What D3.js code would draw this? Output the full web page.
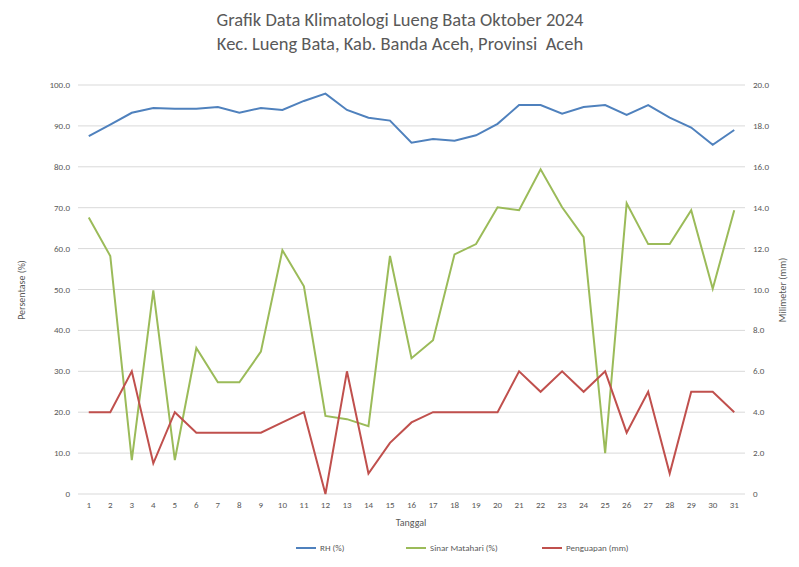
<!DOCTYPE html>
<html><head><meta charset="utf-8">
<script src="https://cdn.jsdelivr.net/npm/d3@7"></script>
<style>body{margin:0;background:#fff;font-family:Calibri,"Liberation Sans",Arial,sans-serif}</style>
</head><body>
<svg id="chart" width="799" height="567"></svg>
<script>
var days = d3.range(1, 32);
var rh = [87.5,90.3,93.2,94.4,94.2,94.2,94.6,93.2,94.4,93.9,96.1,97.9,93.9,92,91.3,85.9,86.8,86.4,87.7,90.5,95.1,95.1,93,94.6,95.1,92.7,95.1,92,89.6,85.4,89];
var sinar = [67.6,58.2,8.3,49.8,8.3,35.7,27.3,27.3,34.8,59.6,50.8,19.1,18.3,16.6,58.2,33.2,37.6,58.6,61.1,70.1,69.4,79.4,70.1,62.8,10,71.1,61.1,61.1,69.4,50.2,69.4];
var penguapan = [4,4,6,1.5,4,3,3,3,3,3.5,4,0,6,1,2.5,3.5,4,4,4,4,6,5,6,5,6,3,5,1,5,5,4];
var leftTicks = d3.range(0, 101, 10);
var rightTicks = d3.range(0, 21, 2);

var svg = d3.select("#chart");
var x = d3.scaleBand().domain(days).range([78, 745]);
var yL = d3.scaleLinear().domain([0, 100]).range([494, 85]);
var yR = d3.scaleLinear().domain([0, 20]).range([494, 85]);
var txt = "#595959";

svg.append("text").attr("x", 400).attr("y", 26).attr("text-anchor", "middle")
    .attr("font-size", 18.5).attr("fill", txt).text("Grafik Data Klimatologi Lueng Bata Oktober 2024");
svg.append("text").attr("x", 400).attr("y", 50).attr("text-anchor", "middle")
    .attr("font-size", 18.5).attr("fill", txt).style("white-space", "pre")
    .text("Kec. Lueng Bata, Kab. Banda Aceh, Provinsi  Aceh");

// gridlines
svg.append("g").selectAll("line").data(leftTicks).enter().append("line")
    .attr("x1", 78).attr("x2", 745)
    .attr("y1", function(d) { return yL(d); }).attr("y2", function(d) { return yL(d); })
    .attr("stroke", "#d9d9d9");

svg.append("g").selectAll("text").data(leftTicks).enter().append("text")
    .attr("x", 70).attr("y", function(d) { return yL(d) + 3; })
    .attr("text-anchor", "end").attr("font-size", 9).attr("fill", txt)
    .text(function(d) { return d === 0 ? "0" : d.toFixed(1); });
svg.append("g").selectAll("text").data(rightTicks).enter().append("text")
    .attr("x", 753).attr("y", function(d) { return yR(d) + 3; })
    .attr("font-size", 9).attr("fill", txt)
    .text(function(d) { return d === 0 ? "0" : d.toFixed(1); });
svg.append("g").selectAll("text").data(days).enter().append("text")
    .attr("x", function(d) { return x(d) + x.bandwidth() / 2; }).attr("y", 508)
    .attr("text-anchor", "middle").attr("font-size", 9).attr("fill", txt).text(function(d) { return d; });

svg.append("text").attr("x", 411).attr("y", 526).attr("text-anchor", "middle")
    .attr("font-size", 10).attr("fill", txt).text("Tanggal");
svg.append("text").attr("transform", "translate(25,290) rotate(-90)").attr("text-anchor", "middle")
    .attr("font-size", 10).attr("fill", txt).text("Persentase (%)");
svg.append("text").attr("transform", "translate(786,290) rotate(-90)").attr("text-anchor", "middle")
    .attr("font-size", 10).attr("fill", txt).text("Milimeter (mm)");

var series = [
    {name: "RH (%)", values: rh, y: yL, color: "#4f81bd"},
    {name: "Sinar Matahari (%)", values: sinar, y: yL, color: "#9bbb59"},
    {name: "Penguapan (mm)", values: penguapan, y: yR, color: "#c0504d"}
];
series.forEach(function(s) {
    var line = d3.line()
        .x(function(d, i) { return x(days[i]) + x.bandwidth() / 2; })
        .y(function(d) { return s.y(d); });
    svg.append("path").datum(s.values).attr("d", line)
        .attr("fill", "none").attr("stroke", s.color).attr("stroke-width", 2);
});

// legend
var lx = [296, 406, 542];
series.forEach(function(s, i) {
    svg.append("line").attr("x1", lx[i]).attr("x2", lx[i] + 20).attr("y1", 548).attr("y2", 548)
        .attr("stroke", s.color).attr("stroke-width", 2);
    svg.append("text").attr("x", lx[i] + 24).attr("y", 551).attr("font-size", 9).attr("fill", txt).text(s.name);
});
</script>
</body></html>
